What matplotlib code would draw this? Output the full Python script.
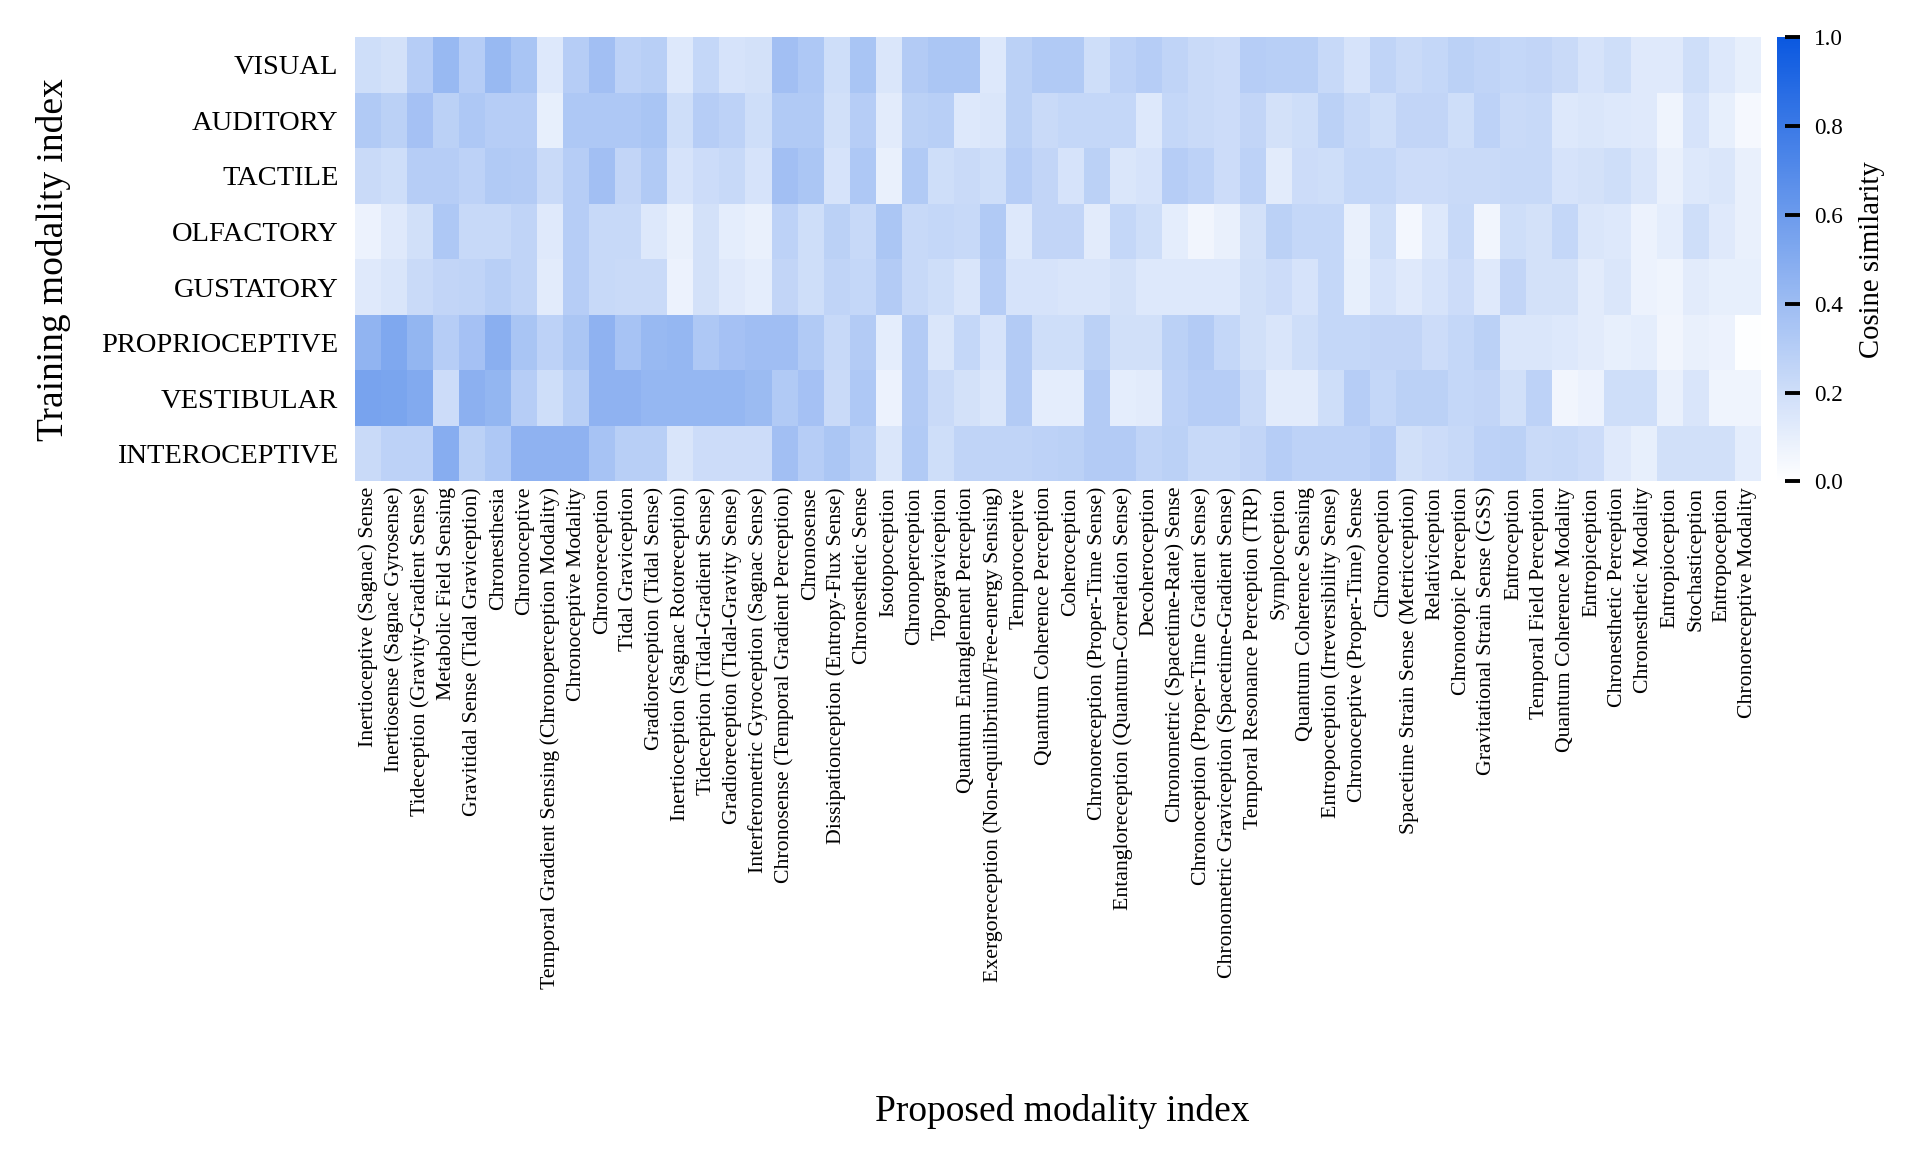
import numpy as np
import matplotlib
matplotlib.use("Agg")
import matplotlib.pyplot as plt
from matplotlib.colors import LinearSegmentedColormap

plt.rcParams["font.family"] = "serif"
plt.rcParams["font.serif"] = ["Liberation Serif", "DejaVu Serif"]

training = ["VISUAL", "AUDITORY", "TACTILE", "OLFACTORY", "GUSTATORY",
            "PROPRIOCEPTIVE", "VESTIBULAR", "INTEROCEPTIVE"]

proposed = [
    "Inertioceptive (Sagnac) Sense", "Inertiosense (Sagnac Gyrosense)",
    "Tideception (Gravity-Gradient Sense)", "Metabolic Field Sensing",
    "Gravitidal Sense (Tidal Graviception)", "Chronesthesia", "Chronoceptive",
    "Temporal Gradient Sensing (Chronoperception Modality)", "Chronoceptive Modality",
    "Chronoreception", "Tidal Graviception", "Gradioreception (Tidal Sense)",
    "Inertioception (Sagnac Rotoreception)", "Tideception (Tidal-Gradient Sense)",
    "Gradioreception (Tidal-Gravity Sense)", "Interferometric Gyroception (Sagnac Sense)",
    "Chronosense (Temporal Gradient Perception)", "Chronosense",
    "Dissipationception (Entropy-Flux Sense)", "Chronesthetic Sense", "Isotopoception",
    "Chronoperception", "Topograviception", "Quantum Entanglement Perception",
    "Exergoreception (Non-equilibrium/Free-energy Sensing)", "Temporoceptive",
    "Quantum Coherence Perception", "Coheroception", "Chronoreception (Proper-Time Sense)",
    "Entangloreception (Quantum-Correlation Sense)", "Decoheroception",
    "Chronometric (Spacetime-Rate) Sense", "Chronoception (Proper-Time Gradient Sense)",
    "Chronometric Graviception (Spacetime-Gradient Sense)",
    "Temporal Resonance Perception (TRP)", "Symploception", "Quantum Coherence Sensing",
    "Entropoception (Irreversibility Sense)", "Chronoceptive (Proper-Time) Sense",
    "Chronoception", "Spacetime Strain Sense (Metricception)", "Relativiception",
    "Chronotopic Perception", "Gravitational Strain Sense (GSS)", "Entroception",
    "Temporal Field Perception", "Quantum Coherence Modality", "Entropiception",
    "Chronesthetic Perception", "Chronesthetic Modality", "Entropioception",
    "Stochastiception", "Entropoception", "Chronoreceptive Modality",
]

# cosine similarity, one row per training modality
visual = [0.20, 0.18, 0.30, 0.42, 0.30, 0.42, 0.35, 0.14, 0.30, 0.38, 0.27, 0.29, 0.14, 0.24,
          0.17, 0.18, 0.38, 0.33, 0.20, 0.35, 0.15, 0.31, 0.34, 0.34, 0.14, 0.28, 0.32,
          0.32, 0.20, 0.27, 0.30, 0.26, 0.22, 0.21, 0.30, 0.29, 0.29, 0.23, 0.17, 0.26,
          0.22, 0.24, 0.28, 0.26, 0.24, 0.25, 0.22, 0.17, 0.20, 0.13, 0.13, 0.20, 0.14, 0.10]
auditory = [0.32, 0.28, 0.37, 0.28, 0.33, 0.30, 0.30, 0.10, 0.33, 0.33, 0.33, 0.35, 0.20, 0.30,
            0.27, 0.20, 0.32, 0.32, 0.19, 0.30, 0.12, 0.28, 0.29, 0.14, 0.15, 0.28, 0.22,
            0.24, 0.24, 0.24, 0.14, 0.24, 0.22, 0.21, 0.25, 0.18, 0.20, 0.28, 0.23, 0.20,
            0.25, 0.25, 0.20, 0.27, 0.22, 0.23, 0.14, 0.15, 0.14, 0.13, 0.07, 0.17, 0.10, 0.04]
tactile = [0.22, 0.20, 0.30, 0.30, 0.27, 0.32, 0.31, 0.22, 0.30, 0.38, 0.25, 0.32, 0.17, 0.21,
           0.23, 0.17, 0.38, 0.34, 0.17, 0.33, 0.09, 0.32, 0.20, 0.22, 0.20, 0.30, 0.25,
           0.17, 0.28, 0.15, 0.17, 0.30, 0.27, 0.21, 0.27, 0.12, 0.21, 0.20, 0.24, 0.24,
           0.21, 0.21, 0.22, 0.22, 0.23, 0.23, 0.17, 0.18, 0.20, 0.16, 0.09, 0.14, 0.15, 0.09]
olfactory = [0.08, 0.13, 0.19, 0.33, 0.23, 0.23, 0.26, 0.13, 0.30, 0.23, 0.23, 0.14, 0.09, 0.18,
             0.11, 0.09, 0.27, 0.20, 0.28, 0.23, 0.34, 0.23, 0.24, 0.23, 0.32, 0.14, 0.25,
             0.25, 0.12, 0.24, 0.20, 0.11, 0.06, 0.09, 0.18, 0.28, 0.24, 0.24, 0.09, 0.20,
             0.05, 0.14, 0.23, 0.06, 0.20, 0.18, 0.24, 0.15, 0.14, 0.08, 0.11, 0.20, 0.13, 0.09]
gustatory = [0.13, 0.16, 0.22, 0.25, 0.26, 0.29, 0.26, 0.12, 0.30, 0.23, 0.22, 0.22, 0.08, 0.18,
             0.13, 0.11, 0.25, 0.20, 0.26, 0.24, 0.31, 0.23, 0.20, 0.16, 0.30, 0.17, 0.17,
             0.16, 0.16, 0.18, 0.14, 0.14, 0.14, 0.14, 0.19, 0.21, 0.17, 0.24, 0.10, 0.17,
             0.13, 0.17, 0.21, 0.13, 0.25, 0.18, 0.18, 0.12, 0.15, 0.08, 0.07, 0.12, 0.10, 0.10]
proprioceptive = [0.45, 0.52, 0.44, 0.30, 0.37, 0.48, 0.35, 0.27, 0.34, 0.46, 0.36, 0.42, 0.43, 0.33,
                  0.37, 0.39, 0.39, 0.32, 0.23, 0.31, 0.11, 0.31, 0.15, 0.24, 0.17, 0.31, 0.20,
                  0.20, 0.28, 0.19, 0.19, 0.28, 0.31, 0.24, 0.19, 0.16, 0.20, 0.24, 0.24, 0.25,
                  0.25, 0.21, 0.24, 0.28, 0.15, 0.15, 0.14, 0.12, 0.10, 0.11, 0.06, 0.09, 0.08, 0.01]
vestibular = [0.55, 0.54, 0.51, 0.21, 0.47, 0.44, 0.30, 0.20, 0.29, 0.46, 0.46, 0.43, 0.43, 0.43,
              0.43, 0.41, 0.32, 0.37, 0.22, 0.33, 0.08, 0.31, 0.22, 0.18, 0.15, 0.31, 0.11,
              0.11, 0.31, 0.11, 0.12, 0.27, 0.30, 0.30, 0.22, 0.12, 0.12, 0.20, 0.30, 0.24,
              0.28, 0.28, 0.24, 0.25, 0.19, 0.27, 0.06, 0.08, 0.20, 0.20, 0.09, 0.16, 0.07, 0.07]
interoceptive = [0.22, 0.27, 0.27, 0.49, 0.28, 0.33, 0.46, 0.46, 0.46, 0.36, 0.29, 0.29, 0.16, 0.21,
                 0.21, 0.21, 0.38, 0.30, 0.34, 0.29, 0.15, 0.32, 0.20, 0.26, 0.26, 0.26, 0.27,
                 0.28, 0.31, 0.31, 0.26, 0.28, 0.23, 0.23, 0.25, 0.30, 0.27, 0.27, 0.27, 0.30,
                 0.19, 0.21, 0.23, 0.27, 0.28, 0.22, 0.23, 0.21, 0.13, 0.10, 0.19, 0.19, 0.19, 0.11]

values = np.array([visual, auditory, tactile, olfactory, gustatory,
                   proprioceptive, vestibular, interoceptive])

cmap = LinearSegmentedColormap.from_list("white_blue", ["#ffffff", "#0a58e0"])

fig = plt.figure(figsize=(19.19, 11.6), dpi=100)
ax = fig.add_axes([0.185, 0.585, 0.7325, 0.383])
cax = fig.add_axes([0.926, 0.585, 0.012, 0.383])

mesh = ax.pcolormesh(values, cmap=cmap, vmin=0, vmax=1)
ax.set_xlim(0, len(proposed))
ax.set_ylim(len(training), 0)
for s in ax.spines.values():
    s.set_visible(False)

ax.set_xticks(np.arange(len(proposed)) + 0.5)
ax.set_xticklabels(proposed, rotation=90, fontsize=15.7)
ax.set_yticks(np.arange(len(training)) + 0.5)
ax.set_yticklabels(training, fontsize=20.5)
ax.tick_params(axis="both", length=0)
ax.tick_params(axis="y", pad=12)
ax.tick_params(axis="x", pad=4)

ax.set_ylabel("Training modality index", fontsize=27, labelpad=22)
fig.text(0.5535, 0.042, "Proposed modality index", fontsize=27, ha="center", va="center")

cbar = fig.colorbar(mesh, cax=cax)
cbar.outline.set_visible(False)
cbar.set_ticks([0.0, 0.2, 0.4, 0.6, 0.8, 1.0])
cbar.ax.tick_params(direction="in", length=11, width=2.8, pad=10, labelsize=16.7)
cbar.set_label("Cosine similarity", fontsize=20.7, labelpad=12)

fig.savefig("out.png", dpi=100)
